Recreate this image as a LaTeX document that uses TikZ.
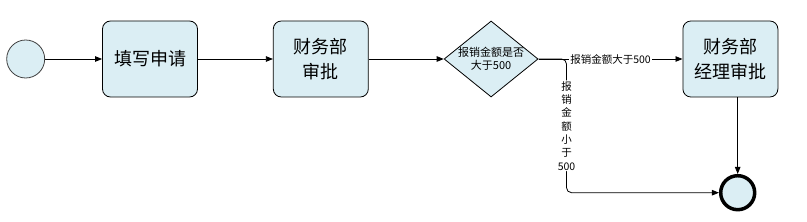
\documentclass[tikz,border=0pt]{standalone}
\usepackage{fontspec}
\setmainfont{Noto Sans CJK SC}
\usetikzlibrary{arrows.meta,positioning,shapes.geometric}
\definecolor{taskblue}{RGB}{219,238,244}

\begin{document}
\begin{tikzpicture}[x=1pt,y=-1pt,line width=0.8pt,
task/.style={draw,rounded corners=8pt,fill=taskblue,minimum width=95pt,minimum height=76pt,align=center,font=\fontsize{18}{25}\selectfont,inner sep=2pt},
gate/.style={draw,diamond,fill=taskblue,minimum width=94pt,minimum height=76pt,inner sep=0pt},
startev/.style={draw=black!75,circle,fill=taskblue,minimum size=38pt,inner sep=0pt},
endev/.style={draw,circle,fill=taskblue,line width=3.5pt,minimum size=34pt,inner sep=0pt},
flow/.style={-{Triangle[length=7pt,width=5.5pt]}},
lbl/.style={fill=white,inner sep=1pt,align=center,font=\fontsize{10.5}{13.3}\selectfont}]
\useasboundingbox (0,0) rectangle (807,222);
\node[startev] (start) at (25.7,59) {};
\node[task,right=57pt of start] (fill) {填写申请};
\node[task,right=75pt of fill] (check) {财务部\\审批};
\node[gate,right=75pt of check] (gw) {};
\node[font=\fontsize{11}{13.5}\selectfont,align=center] (gwtext) at (gw) {报销金额是否\\大于500};
\node[task,right=144pt of gw] (mgr) {财务部\\经理审批};
\node[endev] (finish) at (737.7,192.7) {};
\draw[flow](start)--(fill);\draw[flow](fill)--(check);\draw[flow](check)--(gw);
\draw[flow](gw)--node[lbl]{报销金额大于500}(mgr);
\draw[flow,rounded corners=5pt](gw.east)--++(28,0)|-node[lbl,pos=0.25]{报\\销\\金\\额\\小\\于\\500}(finish);
\draw[flow](mgr.south -| finish)--(finish);
\end{tikzpicture}
\end{document}
